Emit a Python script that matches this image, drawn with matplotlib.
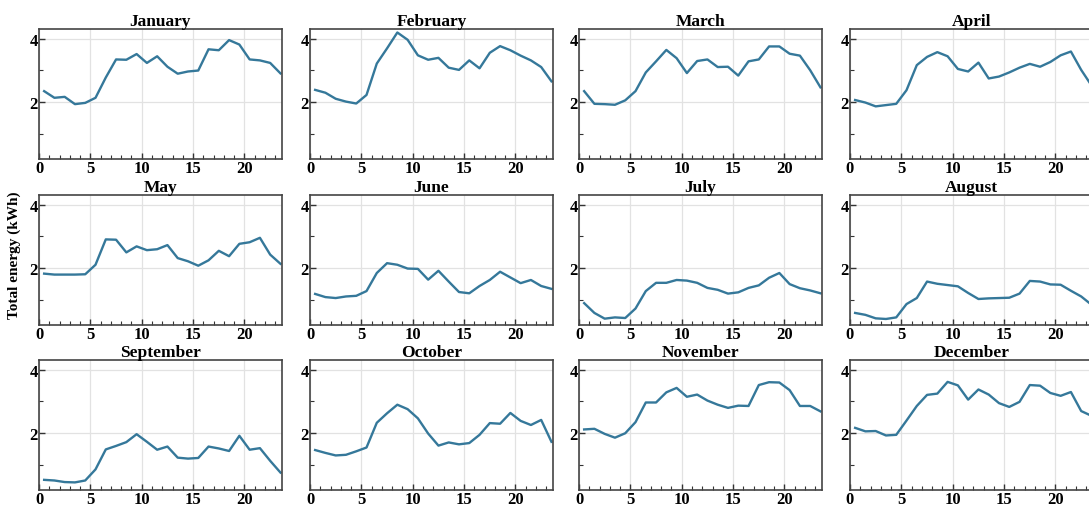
import matplotlib
matplotlib.use("Agg")
import matplotlib.pyplot as plt
import numpy as np
from matplotlib.ticker import MultipleLocator

# ============================================
# DATOS (energía horaria media por mes)
# ============================================

months = ["January", "February", "March", "April", "May", "June",
          "July", "August", "September", "October", "November", "December"]

hours = np.arange(24) + 0.5

january = [2.34, 2.13, 2.16, 1.93, 1.97, 2.13, 2.77, 3.34, 3.33, 3.51, 3.23, 3.44,
           3.11, 2.89, 2.96, 2.99, 3.66, 3.63, 3.95, 3.81, 3.34, 3.31, 3.23, 2.90]
february = [2.38, 2.29, 2.10, 2.01, 1.95, 2.22, 3.21, 3.69, 4.19, 3.96, 3.47, 3.33,
            3.39, 3.08, 3.01, 3.31, 3.06, 3.55, 3.76, 3.63, 3.46, 3.31, 3.10, 2.65]
march = [2.34, 1.94, 1.93, 1.91, 2.05, 2.34, 2.93, 3.28, 3.64, 3.38, 2.91, 3.29,
         3.34, 3.10, 3.11, 2.83, 3.28, 3.34, 3.75, 3.75, 3.52, 3.46, 3.00, 2.46]
april = [2.06, 1.98, 1.86, 1.90, 1.94, 2.37, 3.16, 3.42, 3.57, 3.44, 3.04, 2.96,
         3.24, 2.74, 2.80, 2.93, 3.08, 3.20, 3.11, 3.26, 3.47, 3.59, 3.01, 2.52]
may = [1.82, 1.79, 1.79, 1.79, 1.80, 2.10, 2.90, 2.89, 2.49, 2.68, 2.56, 2.59,
       2.72, 2.31, 2.21, 2.07, 2.24, 2.54, 2.37, 2.76, 2.81, 2.95, 2.42, 2.13]
june = [1.18, 1.08, 1.05, 1.10, 1.12, 1.27, 1.84, 2.15, 2.10, 1.98, 1.97, 1.63,
        1.91, 1.57, 1.24, 1.20, 1.43, 1.62, 1.88, 1.70, 1.52, 1.62, 1.43, 1.34]
july = [0.89, 0.58, 0.40, 0.44, 0.42, 0.72, 1.27, 1.53, 1.53, 1.62, 1.60, 1.53,
        1.37, 1.31, 1.19, 1.23, 1.37, 1.45, 1.69, 1.84, 1.49, 1.36, 1.29, 1.20]
august = [0.58, 0.52, 0.41, 0.39, 0.44, 0.86, 1.05, 1.57, 1.50, 1.46, 1.42, 1.21,
          1.02, 1.04, 1.05, 1.06, 1.19, 1.59, 1.57, 1.48, 1.47, 1.28, 1.10, 0.84]
september = [0.52, 0.50, 0.45, 0.44, 0.50, 0.85, 1.48, 1.59, 1.71, 1.96, 1.72, 1.47,
             1.57, 1.22, 1.19, 1.21, 1.57, 1.51, 1.43, 1.91, 1.47, 1.52, 1.12, 0.75]
october = [1.46, 1.37, 1.29, 1.31, 1.42, 1.54, 2.32, 2.62, 2.89, 2.75, 2.46, 1.98,
           1.60, 1.70, 1.64, 1.68, 1.94, 2.31, 2.29, 2.63, 2.38, 2.25, 2.41, 1.72]
november = [2.11, 2.13, 1.97, 1.85, 1.99, 2.34, 2.96, 2.96, 3.28, 3.42, 3.14, 3.21,
            3.02, 2.89, 2.79, 2.86, 2.85, 3.51, 3.60, 3.59, 3.35, 2.85, 2.85, 2.68]
december = [2.16, 2.05, 2.06, 1.92, 1.94, 2.39, 2.85, 3.20, 3.24, 3.61, 3.50, 3.05,
            3.37, 3.21, 2.94, 2.82, 2.98, 3.51, 3.49, 3.26, 3.17, 3.29, 2.69, 2.54]

series = [january, february, march, april, may, june,
          july, august, september, october, november, december]

# ============================================
# FIGURA
# ============================================

W, H = 1089, 510
fig = plt.figure(figsize=(W / 100, H / 100), dpi=100)

plt.rcParams["font.family"] = ["Liberation Serif", "DejaVu Serif"]

col_left = [39, 310, 579, 850]      # px
row_top = [30, 196, 361]            # px
ax_w, ax_h = 243, 130               # px

line_color = "#35789a"

for k, (name, vals) in enumerate(zip(months, series)):
    r, c = divmod(k, 4)
    left = col_left[c] / W
    bottom = 1 - (row_top[r] + ax_h) / H
    ax = fig.add_axes([left, bottom, ax_w / W, ax_h / H])

    ax.plot(hours, vals, color=line_color, linewidth=1.7)

    ax.set_xlim(0, 23.65)
    ax.set_ylim(0.2, 4.3)
    ax.xaxis.set_major_locator(MultipleLocator(5))
    ax.xaxis.set_minor_locator(MultipleLocator(1))
    ax.yaxis.set_major_locator(MultipleLocator(2))
    ax.yaxis.set_minor_locator(MultipleLocator(1))

    ax.grid(True, which="major", color="#e2e2e2", linewidth=0.9)
    ax.set_axisbelow(True)

    ax.tick_params(which="both", direction="in", top=False, right=False,
                   colors="#333333", labelcolor="black")
    ax.tick_params(which="major", length=4, width=1, labelsize=12, pad=1)
    ax.tick_params(which="minor", length=3, width=0.8)
    for lab in ax.get_xticklabels() + ax.get_yticklabels():
        lab.set_fontweight("bold")

    for sp in ax.spines.values():
        sp.set_color("#444444")
        sp.set_linewidth(1.2)

    ax.set_title(name, fontsize=12.5, fontweight="bold", pad=2)

fig.text(14 / W, 1 - 255 / H, "Total energy (kWh)", rotation=90,
         ha="center", va="center", fontsize=11, fontweight="bold")

plt.savefig("out.png", dpi=100)
